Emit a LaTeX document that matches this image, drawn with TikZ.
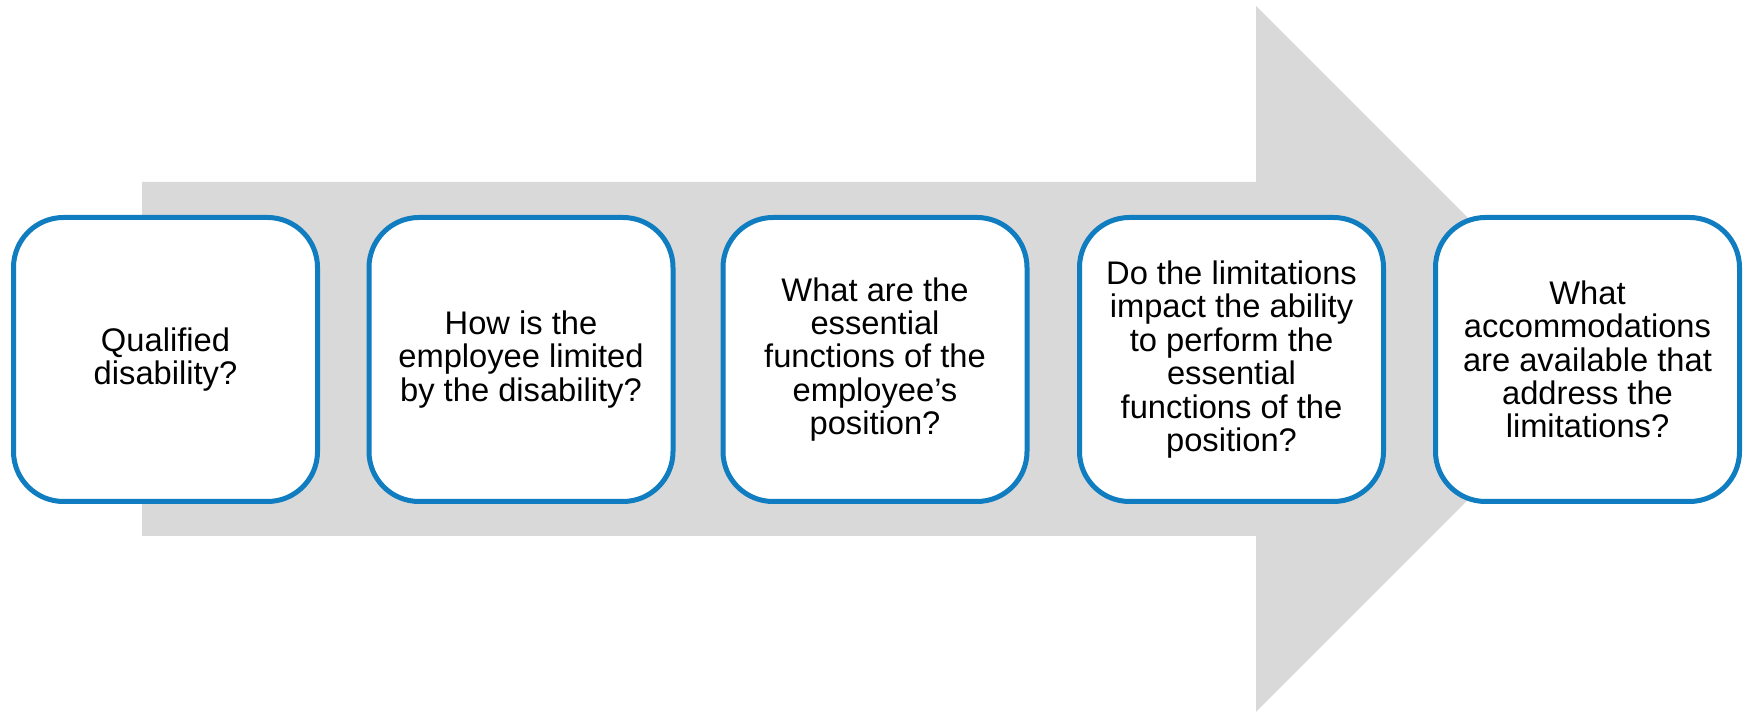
\documentclass[tikz,border=0pt]{standalone}
\usepackage{fontspec}
\setmainfont{Liberation Sans}
\definecolor{stepBlue}{HTML}{0F7DC0}
\definecolor{shaftGray}{HTML}{D9D9D9}
\begin{document}
\begin{tikzpicture}[thick,
  question/.style={rectangle, rounded corners=0.5cm, draw=stepBlue, line width=0.05cm,
    fill=white, minimum width=3.04cm, minimum height=2.84cm, align=center,
    inner sep=0pt, font=\fontsize{9.3pt}{9.5pt}\selectfont}]
\useasboundingbox (0,0) rectangle (17.48,7.13);
%\draw[help lines, step=1cm] (0,0) grid +(17,7);
%%%%%%%%%%%%%%%%%%%%%%%%%%%%%%% Big gray arrow behind the boxes
\fill[shaftGray] (1.42,1.77) -- (1.42,5.31) -- (12.56,5.31) -- (12.56,7.07)
  -- (16.09,3.54) -- (12.56,0.01) -- (12.56,1.77) -- cycle;
%%%%%%%%%%%%%%%%%%%%%%%%%%%%%%% Questions, left to right
\node[question](qDisability) at (1.655,3.535){Qualified\\disability?};
\node[question](qLimited) at (5.21,3.535){How is the\\employee limited\\by the disability?};
\node[question](qFunctions) at (8.75,3.535){What are the\\essential\\functions of the\\employee’s\\position?};
\node[question](qImpact) at (12.315,3.535){Do the limitations\\impact the ability\\to perform the\\essential\\functions of the\\position?};
\node[question](qAccommodate) at (15.875,3.535){What\\accommodations\\are available that\\address the\\limitations?};
\end{tikzpicture}
\end{document}
